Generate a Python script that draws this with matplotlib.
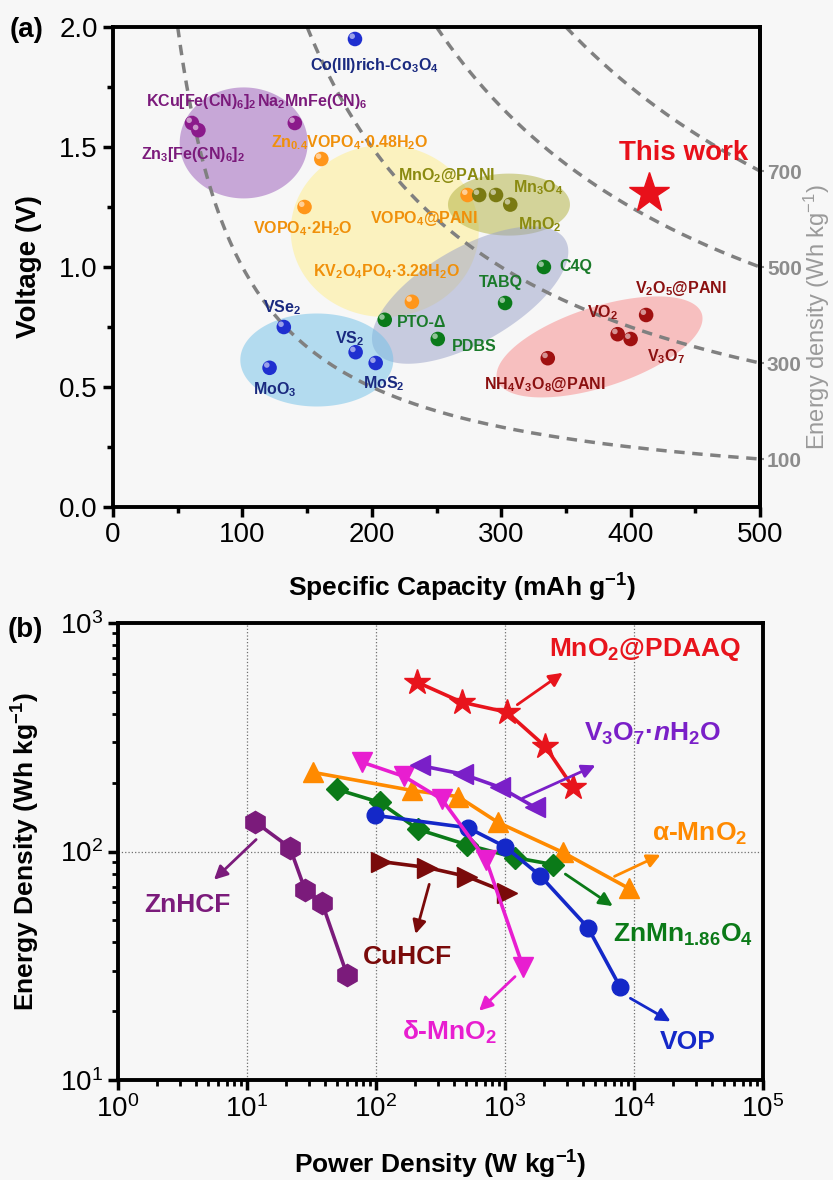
import numpy as np
import matplotlib.pyplot as plt
from matplotlib.transforms import ScaledTranslation

plt.rcParams['font.family'] = ['Liberation Sans', 'DejaVu Sans']
plt.rcParams['mathtext.fontset'] = 'custom'
plt.rcParams['mathtext.rm'] = 'Liberation Sans'
plt.rcParams['mathtext.it'] = 'Liberation Sans:italic:bold'
plt.rcParams['mathtext.bf'] = 'Liberation Sans:bold'
plt.rcParams['mathtext.default'] = 'regular'

# ---------------- panel (a) data: capacity (mAh/g), voltage (V) ----------------
blue_cap = [187, 132, 121, 187.5, 203]
blue_volt = [1.95, 0.75, 0.58, 0.645, 0.60]
purple_cap = [61, 66, 140.5]
purple_volt = [1.60, 1.57, 1.60]
orange_cap = [161, 148, 274, 231]
orange_volt = [1.45, 1.25, 1.30, 0.855]
olive_cap = [283, 296, 307]
olive_volt = [1.30, 1.30, 1.26]
green_cap = [210, 251, 303, 333]
green_volt = [0.78, 0.70, 0.85, 1.00]
red_cap = [412, 390, 400, 336]
red_volt = [0.80, 0.72, 0.70, 0.62]
this_cap = [414]
this_volt = [1.31]
energies = [100, 300, 500, 700]

# shaded groups: centre (cap, volt), size in pixels, tilt in degrees
blob_cap = [101, 210, 306, 276, 157.5, 376]
blob_volt = [1.517, 1.15, 1.26, 0.883, 0.6125, 0.667]
blob_w = [128, 188, 122, 220, 153, 215]
blob_h = [111, 172, 62, 95, 93, 80]
blob_ang = [0, 0, 0, 30, 0, 18]
blob_col = ['#9858b8', '#ffee88', '#b0b03c', '#98a0c8', '#70c0e8', '#f88888']

labels_a = ['Co(III)rich-Co$_3$O$_4$', 'Zn$_3$[Fe(CN)$_6$]$_2$',
            'Zn$_{0.4}$VOPO$_4$·0.48H$_2$O', 'VOPO$_4$·2H$_2$O', 'VOPO$_4$@PANI',
            'MnO$_2$@PANI', 'Mn$_3$O$_4$', 'MnO$_2$', 'KV$_2$O$_4$PO$_4$·3.28H$_2$O',
            'TABQ', 'VSe$_2$', 'VS$_2$', 'MoO$_3$', 'MoS$_2$', 'V$_2$O$_5$@PANI',
            'VO$_2$', 'V$_3$O$_7$', 'NH$_4$V$_3$O$_8$@PANI']
labels_a_cap = [202, 62, 183, 147, 240, 258, 329, 330, 211, 300, 131, 183, 125, 209, 439, 378, 427, 334]
labels_a_volt = [1.84, 1.47, 1.52, 1.16, 1.20, 1.38, 1.33, 1.175, 0.98, 0.935, 0.83, 0.70, 0.49, 0.515,
                 0.91, 0.81, 0.625, 0.51]
labels_a_col = ['#1a2a80', '#7b1a7b', '#f0900a', '#f0900a', '#f0900a', '#8a8a10', '#8a8a10', '#8a8a10',
                '#f0900a', '#1a7a2a', '#1a2a80', '#1a2a80', '#1a2a80', '#1a2a80', '#8b1010', '#8b1010',
                '#8b1010', '#8b1010']

# ---------------- panel (b) data: power (W/kg), energy (Wh/kg) ----------------
pdaaq_p = [208, 464, 1036, 2042, 3365]
pdaaq_e = [551, 450, 407, 289, 191]
v3o7_p = [219, 472, 915, 1709]
v3o7_e = [238, 218, 191, 156]
dmno2_p = [78, 165, 325, 713, 1380]
dmno2_e = [246, 213, 169, 92, 31.3]
amno2_p = [32.5, 190, 432, 883, 2818, 9145]
amno2_e = [222, 185, 174, 134, 99, 68.9]
znmn_p = [49.9, 107, 212, 507, 1197, 2356]
znmn_e = [187, 164, 125, 107, 94, 87.7]
vop_p = [98.2, 517, 1000, 1868, 4397, 7790]
vop_e = [144, 127, 105, 78.5, 46.4, 25.6]
cuhcf_p = [109, 249, 508, 1037]
cuhcf_e = [90.4, 85.1, 77.7, 66.1]
znhcf_p = [11.5, 21.5, 28.2, 38.1, 59.6]
znhcf_e = [135, 104, 68, 59.7, 28.9]

W, H, DPI = 833, 1180, 100
bg = '#f7f7f7'
fig = plt.figure(figsize=(W / DPI, H / DPI), dpi=DPI, facecolor=bg)
ax1 = fig.add_axes([113 / W, 1 - 507 / H, 647 / W, 480 / H], facecolor=bg)
ax2 = fig.add_axes([118 / W, 1 - 1080 / H, 645 / W, 457 / H], facecolor=bg)

# ================= panel (a) =================
sx = 647 / 500.0
sy = 480 / 2.0
t = np.linspace(0, 2 * np.pi, 200)
for c, v, w, h, a, col in zip(blob_cap, blob_volt, blob_w, blob_h, blob_ang, blob_col):
    th = np.radians(a)
    dx = w / 2 * np.cos(t) * np.cos(th) - h / 2 * np.sin(t) * np.sin(th)
    dy = w / 2 * np.cos(t) * np.sin(th) + h / 2 * np.sin(t) * np.cos(th)
    ax1.fill(c + dx / sx, v + dy / sy, color=col, alpha=0.5, lw=0, zorder=1)

for e in energies:
    cc = np.linspace(e / 2.0, 500, 200)
    ax1.plot(cc, e / cc, color='#808080', lw=2.5, ls=(0, (3, 2.2)), zorder=2)

hl = ax1.transData + ScaledTranslation(-2 / 72, 2 / 72, fig.dpi_scale_trans)
for xs, ys, col in [(blue_cap, blue_volt, '#1f2fd0'), (purple_cap, purple_volt, '#8b1a8b'),
                    (orange_cap, orange_volt, '#ff961a'), (olive_cap, olive_volt, '#7a7a12'),
                    (green_cap, green_volt, '#0a7a1a'), (red_cap, red_volt, '#a01010')]:
    ax1.scatter(xs, ys, s=110, color=col, edgecolor='none', zorder=4)
    ax1.scatter(xs, ys, s=16, color='white', alpha=0.55, edgecolor='none', zorder=5, transform=hl)

ax1.plot(this_cap, this_volt, marker='*', ms=30, color='#e8101a', ls='none', zorder=5)
ax1.text(441, 1.475, 'This work', color='#e8101a', fontsize=20, weight='bold', ha='center', va='center')

lfs = 11.5
for s, c, v, col in zip(labels_a, labels_a_cap, labels_a_volt, labels_a_col):
    ax1.text(c, v, s, color=col, fontsize=lfs, weight='bold', ha='center', va='center', zorder=6)
ax1.text(111, 1.69, 'KCu[Fe(CN)$_6$]$_2$', color='#7b1a7b', fontsize=lfs, weight='bold', ha='right', va='center')
ax1.text(111, 1.69, 'Na$_2$MnFe(CN)$_6$', color='#7b1a7b', fontsize=lfs, weight='bold', ha='left', va='center')
ax1.text(219, 0.77, 'PTO-Δ', color='#1a7a2a', fontsize=lfs, weight='bold', ha='left', va='center')
ax1.text(262, 0.667, 'PDBS', color='#1a7a2a', fontsize=lfs, weight='bold', ha='left', va='center')
ax1.text(345, 1.0, 'C4Q', color='#1a7a2a', fontsize=lfs, weight='bold', ha='left', va='center')

ax1.set_xlim(0, 500)
ax1.set_ylim(0, 2.0)
ax1.set_xticks([0, 100, 200, 300, 400, 500])
ax1.set_xticks([50, 150, 250, 350, 450], minor=True)
ax1.set_yticks([0, 0.5, 1.0, 1.5, 2.0])
ax1.set_yticks([0.25, 0.75, 1.25, 1.75], minor=True)
ax1.yaxis.set_major_formatter('{x:.1f}')
ax1.tick_params(which='major', direction='out', length=7, width=2.5, labelsize=20, pad=4)
ax1.tick_params(which='minor', direction='out', length=4, width=2.5)
for sp in ax1.spines.values():
    sp.set_linewidth(2.8)
ax1.set_xlabel('Specific Capacity (mAh g$^{-1}$)', fontsize=19, weight='bold')
ax1.xaxis.set_label_coords(0.54, -0.135)
ax1.set_ylabel('Voltage (V)', fontsize=20, weight='bold')
ax1.yaxis.set_label_coords(-0.11, 0.5)

sec = ax1.secondary_yaxis('right', functions=(lambda v: v * 500, lambda e: e / 500))
sec.set_yticks(energies)
sec.set_yticklabels([str(e) for e in energies], fontweight='bold')
sec.tick_params(direction='out', length=3, width=1.5, colors='#8c8c8c', labelsize=15, pad=2)
sec.spines['right'].set_linewidth(2.8)
sec.spines['right'].set_color('black')
ax1.text(1.088, 0.396, 'Energy density (Wh kg$^{-1}$)', transform=ax1.transAxes, rotation=90,
         ha='center', va='center', color='#9a9a9a', fontsize=17, clip_on=False)

# ================= panel (b) =================
ax2.set_xscale('log')
ax2.set_yscale('log')
ax2.set_xlim(1, 1e5)
ax2.set_ylim(10, 1000)
ax2.grid(which='major', ls=':', color='#707070', lw=0.9)

series = [
    (znhcf_p, znhcf_e, '#7b1b7b', 'h', 16),
    (cuhcf_p, cuhcf_e, '#7a0a0a', '>', 15),
    (amno2_p, amno2_e, '#ff8a00', '^', 15),
    (znmn_p, znmn_e, '#0b7a18', 'D', 11),
    (vop_p, vop_e, '#1428c8', 'o', 12),
    (dmno2_p, dmno2_e, '#e81ed0', 'v', 15),
    (v3o7_p, v3o7_e, '#7a1fc8', '<', 15),
    (pdaaq_p, pdaaq_e, '#e8141c', '*', 19),
]
for p, e, col, m, ms in series:
    ax2.plot(p, e, color=col, marker=m, ms=ms, lw=2.6, zorder=3)

arrows = [
    ((1196, 432), (2917, 615), '#e8141c'),
    ((1306, 169), (5260, 241), '#7a1fc8'),
    ((6750, 76.9), (16800, 97.9), '#ff8a00'),
    ((2818, 80.9), (7130, 56.8), '#0b7a18'),
    ((8980, 23.1), (20050, 17.8), '#1428c8'),
    ((1240, 28.9), (607, 19.7), '#e81ed0'),
    ((262, 73.8), (200, 42.4), '#7a0a0a'),
    ((12.2, 115), (5.35, 73.8), '#7b1b7b'),
]
for start, end, col in arrows:
    ax2.annotate('', xy=end, xytext=start,
                 arrowprops=dict(arrowstyle='-|>', color=col, lw=2, mutation_scale=20), zorder=4)

bfs = 19
ax2.text(1.22e4, 769, 'MnO$_2$@PDAAQ', color='#e8141c', fontsize=bfs, weight='bold', ha='center', va='center')
ax2.text(1.40e4, 326, 'V$_3$O$_7$·$\\mathit{n}$H$_2$O', color='#7a1fc8', fontsize=bfs, weight='bold', ha='center', va='center')
ax2.text(3.25e4, 119, 'α-MnO$_2$', color='#ff8a00', fontsize=bfs, weight='bold', ha='center', va='center')
ax2.text(2.40e4, 43.3, 'ZnMn$_{1.86}$O$_4$', color='#0b7a18', fontsize=bfs, weight='bold', ha='center', va='center')
ax2.text(2.62e4, 14.7, 'VOP', color='#1428c8', fontsize=bfs, weight='bold', ha='center', va='center')
ax2.text(375, 16.1, 'δ-MnO$_2$', color='#e81ed0', fontsize=bfs, weight='bold', ha='center', va='center')
ax2.text(174, 34.6, 'CuHCF', color='#7a0a0a', fontsize=bfs, weight='bold', ha='center', va='center')
ax2.text(3.43, 58.6, 'ZnHCF', color='#7b1b7b', fontsize=bfs, weight='bold', ha='center', va='center')

ax2.tick_params(which='major', direction='out', length=7, width=2.5, labelsize=20, pad=4)
ax2.tick_params(which='minor', direction='out', length=4, width=2)
for sp in ax2.spines.values():
    sp.set_linewidth(2.8)
ax2.set_xlabel('Power Density (W kg$^{-1}$)', fontsize=19, weight='bold')
ax2.xaxis.set_label_coords(0.5, -0.15)
ax2.set_ylabel('Energy Density (Wh kg$^{-1}$)', fontsize=19, weight='bold')
ax2.yaxis.set_label_coords(-0.118, 0.5)

fig.text(10 / W, 1 - 30 / H, '(a)', fontsize=20, weight='bold', ha='left', va='center')
fig.text(8 / W, 1 - 630 / H, '(b)', fontsize=20, weight='bold', ha='left', va='center')

fig.savefig('out.png', dpi=DPI, facecolor=bg)
